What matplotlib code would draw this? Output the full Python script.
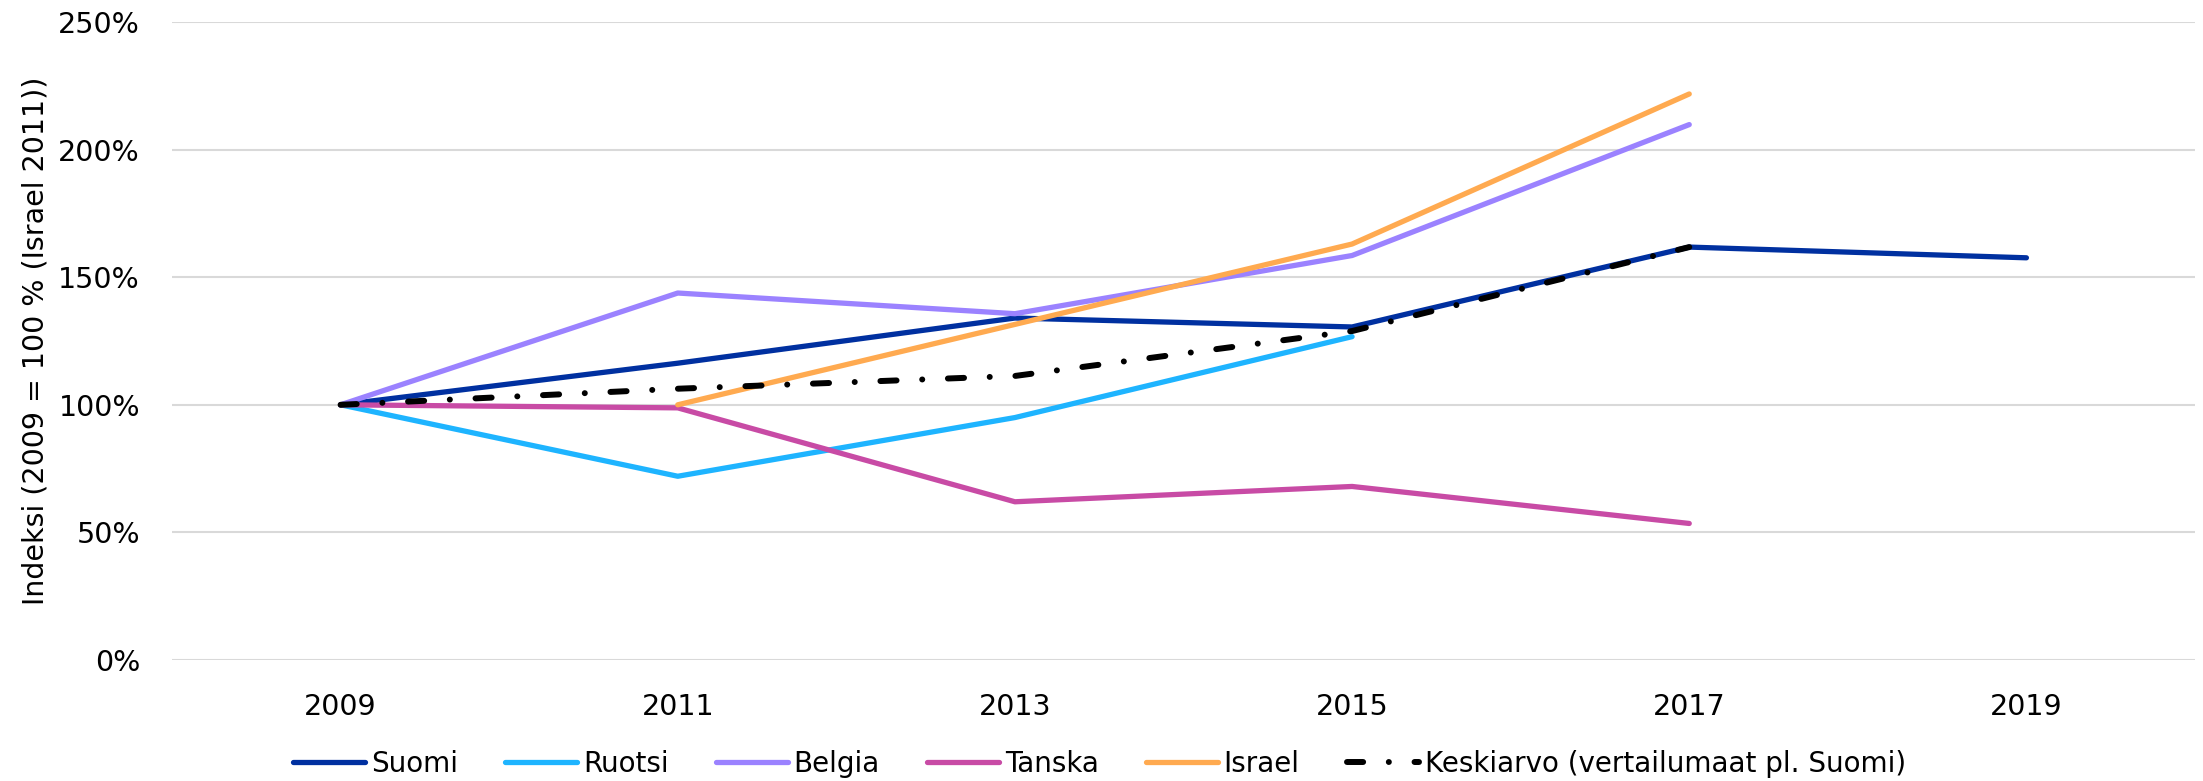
import matplotlib
matplotlib.use("Agg")
import matplotlib.pyplot as plt
import numpy as np

years = ["2009", "2011", "2013", "2015", "2017", "2019"]

suomi = [100, 116.3, 134, 130.5, 161.8, 157.6]
ruotsi = [100, 72, 95, 126.7, np.nan, np.nan]
belgia = [100, 143.8, 135.7, 158.5, 209.8, np.nan]
tanska = [100, 98.8, 62, 68, 53.5, np.nan]
israel = [np.nan, 100, 131.5, 163, 221.8, np.nan]
keskiarvo = [100, 106.3, 111.3, 128.9, 161.8, np.nan]

names = ["Suomi", "Ruotsi", "Belgia", "Tanska", "Israel"]
colors = ["#0030A0", "#1EB4FF", "#9B82FF", "#C84BA5", "#FFAA50"]

W, H = 2203, 781
fig = plt.figure(figsize=(W / 100, H / 100), dpi=100)
ax = fig.add_axes([172 / W, (H - 660) / H, (2195 - 172) / W, (660 - 22) / H])

x = np.arange(len(years))
for vals, name, c in zip([suomi, ruotsi, belgia, tanska, israel], names, colors):
    ax.plot(x, vals, color=c, lw=3.8, label=name, solid_capstyle="round", zorder=3)

ax.plot(x, keskiarvo, color="black", lw=4.3, linestyle=(0, (2.7, 4.3, 0.01, 4.3)),
        dash_capstyle="round", label="Keskiarvo (vertailumaat pl. Suomi)", zorder=4)

ax.set_xlim(-0.5, 5.5)
ax.set_ylim(0, 250)
ax.set_yticks(np.arange(0, 251, 50))
ax.set_yticklabels([f"{v}%" for v in range(0, 251, 50)])
ax.set_xticks(x)
ax.set_xticklabels(years)
ax.tick_params(axis="both", length=0, labelsize=20.5)
ax.tick_params(axis="x", pad=24)
ax.tick_params(axis="y", pad=23)
ax.grid(axis="y", color="#D9D9D9", lw=1.5)
ax.set_axisbelow(True)
for s in ax.spines.values():
    s.set_visible(False)

ax.set_ylabel("Indeksi (2009 = 100 % (Israel 2011))", fontsize=20.5, labelpad=6)

fig.legend(*ax.get_legend_handles_labels(), loc="center left",
           bbox_to_anchor=(293 / W, 1 - 764 / H), ncol=6, frameon=False,
           fontsize=20, handlelength=2.6, columnspacing=1.7, handletextpad=0.2,
           borderpad=0, borderaxespad=0)

fig.savefig("out.png", dpi=100)
